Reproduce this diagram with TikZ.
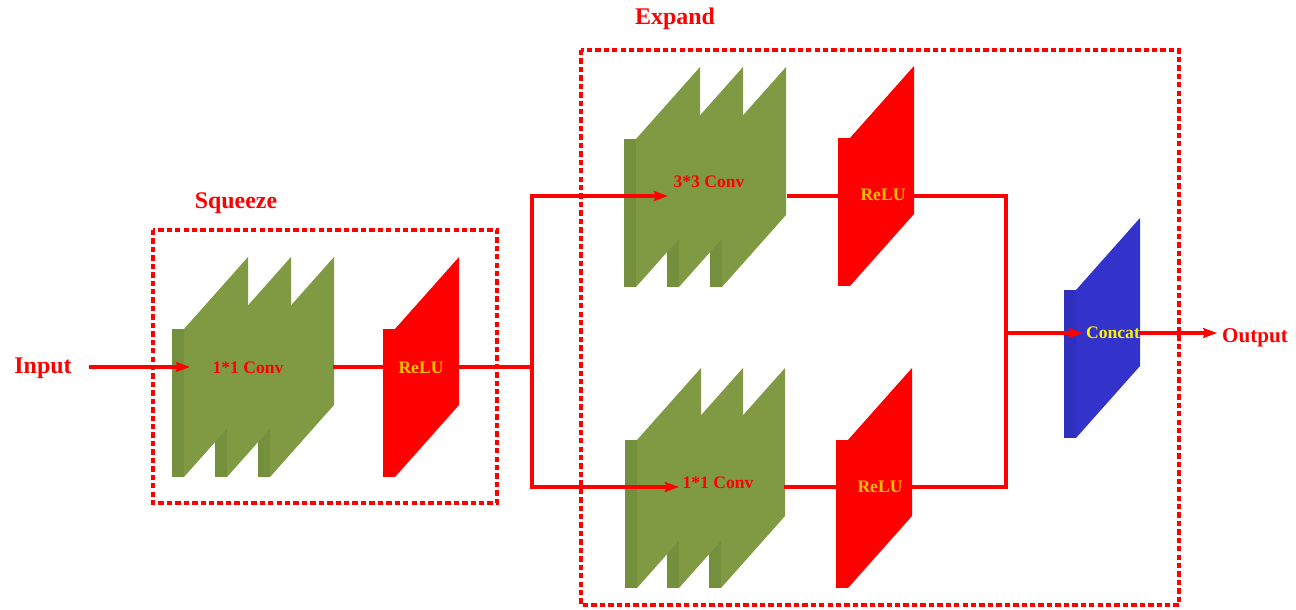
\documentclass[tikz,border=0pt]{standalone}
\usepackage{fontspec}
\setmainfont{Liberation Serif}
\usepackage{tikz}
\usetikzlibrary{arrows.meta}
\usetikzlibrary{positioning}

\definecolor{convgreen}{RGB}{127,154,66}
\definecolor{convedge}{RGB}{116,144,60}
\definecolor{catblue}{RGB}{51,51,204}
\definecolor{catedge}{RGB}{47,47,192}
\definecolor{relugold}{RGB}{255,192,0}

% slab: strip left x, strip top y, face colour, strip colour
\newcommand{\slab}[4]{%
    \fill[#4] (#1,#2) rectangle ({#1+12},{#2+148});
    \fill[#3] ({#1+12},#2) -- ({#1+76},{#2-72}) -- ({#1+76},{#2+76})
        -- ({#1+12},{#2+148}) -- cycle;
}

\begin{document}
\begin{tikzpicture}[
                x=0.025cm, y=-0.025cm,
                title/.style={text=red, anchor=base,
                        font=\bfseries\fontsize{17}{20}\selectfont},
                inner/.style={anchor=base, inner sep=1pt,
                        font=\bfseries\fontsize{12.5}{15}\selectfont},
                convtext/.style={inner, text=red},
                relutext/.style={inner, text=relugold},
                cattext/.style={inner, text=yellow},
                group/.style={draw=red, line width=2.4pt,
                        dash pattern=on 3.8pt off 2.2pt},
                line/.style={red, line width=2.2pt},
                arrow/.style={line, -{Stealth[length=10pt, width=7pt, inset=1.5pt]}},
            ]
            \useasboundingbox (0,0) rectangle (1296,610);

            % groups
            \draw[group] (153,230) rectangle (497,503);
            \draw[group] (581,50) rectangle (1179,605);
            \node[title] (squeeze) at (236,208) {Squeeze};
            \node[title] (expand) at (675,25) {Expand};

            % squeeze branch
            \foreach \i in {2,1,0}
                {\slab{172+43*\i}{329}{convgreen}{convedge}}
            \slab{383}{329}{red}{red}
            \node[convtext] (sq_conv) at (248,373) {1*1 Conv};
            \node[relutext] (sq_relu) at (421,373) {ReLU};

            % expand, 3*3 branch
            \foreach \i in {2,1,0}
                {\slab{624+43*\i}{139}{convgreen}{convedge}}
            \slab{838}{138}{red}{red}
            \node[convtext] (e3_conv) at (709,188) {3*3 Conv};
            \node[relutext] (e3_relu) at (883,201) {ReLU};

            % expand, 1*1 branch
            \foreach \i in {2,1,0}
                {\slab{625+42*\i}{440}{convgreen}{convedge}}
            \slab{836}{440}{red}{red}
            \node[convtext] (e1_conv) at (718,488) {1*1 Conv};
            \node[relutext] (e1_relu) at (880,492) {ReLU};

            % concat
            \slab{1064}{290}{catblue}{catedge}
            \node[cattext] (concat) at (1113,338) {Concat};

            \node[title] (input) at (43,373) {Input};
            \node[title, font=\bfseries\fontsize{15}{18}\selectfont]
                (output) at (1255,342) {Output};

            \coordinate (sq_in) at (190,367);
            \coordinate (sq_out) at (333,367);
            \coordinate (sqrelu_in) at (383,367);
            \coordinate (sqrelu_out) at (459,367);
            \coordinate (split) at (532,367);
            \coordinate (e3_in) at (668,196);
            \coordinate (e3_out) at (787,196);
            \coordinate (e3relu_in) at (838,196);
            \coordinate (e3relu_out) at (914,196);
            \coordinate (e1_in) at (679,487);
            \coordinate (e1_out) at (784,487);
            \coordinate (e1relu_in) at (836,487);
            \coordinate (e1relu_out) at (912,487);
            \coordinate (merge) at (1006,333);
            \coordinate (cat_in) at (1083,333);
            \coordinate (cat_out) at (1140,333);

            \draw[arrow, shorten <=0.3cm] (input.east |- sq_in) -- (sq_in);
            \draw[line] (sq_out) -- (sqrelu_in);
            \draw[line] (sqrelu_out) -- (split);
            \draw[arrow] (split) |- (e3_in);
            \draw[arrow] (split) |- (e1_in);
            \draw[line] (e3_out) -- (e3relu_in);
            \draw[line] (e1_out) -- (e1relu_in);
            \draw[line] (e3relu_out) -| (merge);
            \draw[line] (e1relu_out) -| (merge);
            \draw[arrow] (merge) -- (cat_in);
            \draw[arrow] (cat_out) -- (output.west |- cat_out);
        \end{tikzpicture}
\end{document}
